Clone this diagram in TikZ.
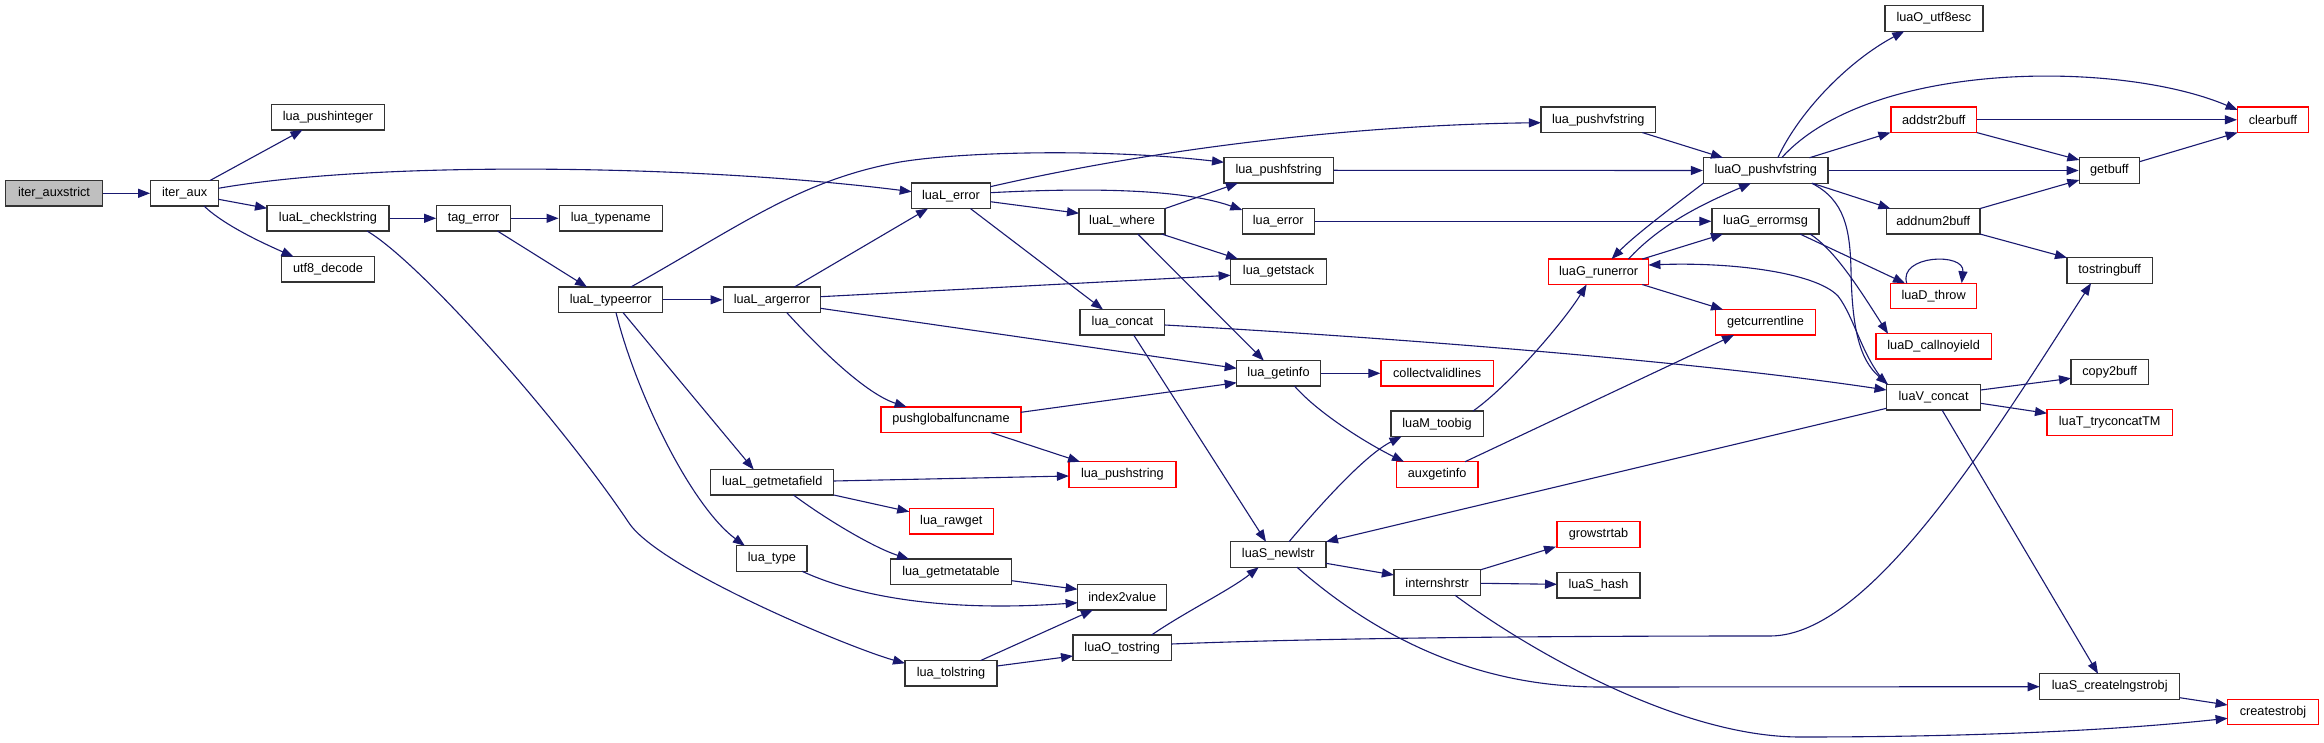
\documentclass[tikz,border=0pt]{standalone}
\usepackage{fontspec}
\setmainfont{Liberation Sans}
\usetikzlibrary{arrows.meta,calc}
\definecolor{mblue}{HTML}{191970}
\definecolor{bord}{HTML}{333333}
\begin{document}
\begin{tikzpicture}[x=1pt,y=-1pt,
 box/.style={draw=bord, line width=1.3pt, fill=white, minimum height=25.5pt, inner sep=0pt, font=\fontsize{12.7}{15}\selectfont},
 rbox/.style={box, draw=red},
 edg/.style={draw=mblue, line width=1.1pt, -{Triangle[length=12pt,width=9pt]}},
 edgn/.style={draw=mblue, line width=1.1pt}]
\fill[white] (0,0) rectangle (2324,743);
\useasboundingbox (0,0) rectangle (2324,743);
% nodes
\node[box, fill=black!25, minimum width=97.5pt] (auxstrict) at (54,193.3) {iter\_auxstrict};
\node[box, minimum width=67.7pt] (iteraux) at (184.6,193.3) {iter\_aux};
\node[box, minimum width=113.5pt] (pushint) at (328,117.2) {lua\_pushinteger};
\node[box, minimum width=122pt] (checkl) at (328,218.3) {luaL\_checklstring};
\node[box, minimum width=92.5pt] (utfdec) at (328,269.3) {utf8\_decode};
\node[box, minimum width=73.6pt] (tagerr) at (473.6,218.3) {tag\_error};
\node[box, minimum width=103pt] (typename) at (610.7,218.3) {lua\_typename};
\node[box, minimum width=104pt] (typeerr) at (610.7,299.8) {luaL\_typeerror};
\node[box, minimum width=97.4pt] (argerr) at (771.9,299.8) {luaL\_argerror};
\node[box, minimum width=123pt] (getmf) at (772.2,482.3) {luaL\_getmetafield};
\node[box, minimum width=70.4pt] (ltype) at (771.9,558.5) {lua\_type};
\node[box, minimum width=78.6pt] (lerror) at (951,195.8) {luaL\_error};
\node[rbox, minimum width=139.8pt] (pgf) at (951,419.7) {pushglobalfuncname};
\node[rbox, minimum width=84.2pt] (rawget) at (951.3,521.2) {lua\_rawget};
\node[box, minimum width=121.4pt] (getmt) at (951,571.8) {lua\_getmetatable};
\node[box, minimum width=91.9pt] (tolstr) at (951,673.3) {lua\_tolstring};
\node[box, minimum width=86pt] (where) at (1122,221.3) {luaL\_where};
\node[box, minimum width=84.7pt] (lconcat) at (1122.4,322.3) {lua\_concat};
\node[rbox, minimum width=107.1pt] (pushstr) at (1122.4,474.5) {lua\_pushstring};
\node[box, minimum width=89.2pt] (itwov) at (1122.2,597.2) {index2value};
\node[box, minimum width=98.4pt] (otostr) at (1122.2,647.8) {luaO\_tostring};
\node[box, minimum width=109.2pt] (pushf) at (1278.6,170.3) {lua\_pushfstring};
\node[box, minimum width=72pt] (lerr) at (1278.3,221.3) {lua\_error};
\node[box, minimum width=96pt] (getstack) at (1278.6,271.7) {lua\_getstack};
\node[box, minimum width=83.7pt] (getinfo) at (1278.5,373.3) {lua\_getinfo};
\node[box, minimum width=95.4pt] (newlstr) at (1278.3,554.5) {luaS\_newlstr};
\node[rbox, minimum width=112.3pt] (cvl) at (1437.2,373.3) {collectvalidlines};
\node[box, minimum width=92.3pt] (toobig) at (1437,423.8) {luaM\_toobig};
\node[rbox, minimum width=81.6pt] (auxgi) at (1437.2,474.5) {auxgetinfo};
\node[box, minimum width=86.7pt] (intern) at (1437.2,582.5) {internshrstr};
\node[box, minimum width=114.8pt] (pushvf) at (1598.3,119.8) {lua\_pushvfstring};
\node[rbox, minimum width=99.8pt] (runerr) at (1598.6,271.8) {luaG\_runerror};
\node[rbox, minimum width=83pt] (growst) at (1598.5,534.5) {growstrtab};
\node[box, minimum width=83pt] (shash) at (1598.5,585.2) {luaS\_hash};
\node[box, minimum width=124.3pt] (opushvf) at (1765.7,170.5) {luaO\_pushvfstring};
\node[box, minimum width=107pt] (errmsg) at (1765.5,221.3) {luaG\_errormsg};
\node[rbox, minimum width=100.3pt] (curline) at (1765.5,322.3) {getcurrentline};
\node[box, minimum width=98pt] (utfesc) at (1933.9,18.5) {luaO\_utf8esc};
\node[rbox, minimum width=85.8pt] (addstr) at (1933.8,119.8) {addstr2buff};
\node[box, minimum width=93.6pt] (addnum) at (1933.3,221.3) {addnum2buff};
\node[rbox, minimum width=86.4pt] (dthrow) at (1933.6,296) {luaD\_throw};
\node[rbox, minimum width=115.4pt] (callny) at (1933.6,346.3) {luaD\_callnoyield};
\node[box, minimum width=94.2pt] (vconcat) at (1933.6,397.2) {luaV\_concat};
\node[box, minimum width=60.2pt] (getbuff) at (2109.4,170.5) {getbuff};
\node[box, minimum width=85.3pt] (tsbuff) at (2109.7,270.5) {tostringbuff};
\node[box, minimum width=77.5pt] (copytwo) at (2109.7,372) {copy2buff};
\node[rbox, minimum width=125.4pt] (tryconcat) at (2109.7,422.5) {luaT\_tryconcatTM};
\node[box, minimum width=140pt] (lngstr) at (2109.7,686.5) {luaS\_createlngstrobj};
\node[rbox, minimum width=70.8pt] (clearbuff) at (2273,119.8) {clearbuff};
\node[rbox, minimum width=90.8pt] (cstrobj) at (2273,712) {createstrobj};
% edges
\draw[edg] (auxstrict.east) -- (iteraux.west);
\draw[edg] ($(iteraux)+(25.4,-12.8)$) -- ($(pushint)+(-25.5,12.8)$);
\draw[edg] ($(iteraux)+(33.8,-5)$) .. controls (380,160) and (700,165) .. ($(lerror)+(-39.3,-4.1)$);
\draw[edg] ($(iteraux)+(33.8,6)$) -- ($(checkl)+(-61,-10)$);
\draw[edg] ($(iteraux)+(19.4,12.7)$) .. controls (225,226) and (265,244) .. ($(utfdec)+(-34.5,-12.6)$);
\draw[edg] (checkl.east) -- (tagerr.west);
\draw[edg] ($(checkl)+(39,12.7)$) .. controls (420,262) and (560,420) .. (629,523) .. controls (660,569) and (850,648) .. ($(tolstr)+(-46,-10)$);
\draw[edg] (tagerr.east) -- (typename.west);
\draw[edg] ($(tagerr)+(23.9,12.75)$) -- ($(typeerr)+(-23.7,-12.75)$);
\draw[edg] (typeerr.east) -- (argerr.west);
\draw[edg] ($(typeerr)+(20.1,-12.75)$) .. controls (740,226) and (800,180) .. (900,162) .. controls (960,152) and (1100,148) .. ($(pushf)+(-54.6,-8)$);
\draw[edg] ($(typeerr)+(12.3,12.75)$) -- ($(getmf)+(-18.5,-12.75)$);
\draw[edg] ($(typeerr)+(5.3,12.75)$) .. controls (635,390) and (690,505) .. ($(ltype)+(-27.1,-12.75)$);
\draw[edg] ($(argerr)+(22.5,-12.75)$) -- ($(lerror)+(-23,12.75)$);
\draw[edg] ($(argerr)+(48.6,-3.1)$) -- ($(getstack)+(-48,3.6)$);
\draw[edg] ($(argerr)+(48.6,8.5)$) -- ($(getinfo)+(-41.8,-5)$);
\draw[edg] ($(argerr)+(14.8,12.75)$) .. controls (830,360) and (870,395) .. ($(pgf)+(-44.4,-12.75)$);
\draw[edg] ($(lerror)+(39.3,-9.1)$) .. controls (1150,150) and (1350,125) .. ($(pushvf)+(-57.4,2.9)$);
\draw[edg] ($(lerror)+(39.3,5.9)$) -- ($(where)+(-43,-8)$);
\draw[edg] ($(lerror)+(39.3,-3.1)$) .. controls (1080,188) and (1180,188) .. ($(lerr)+(-36,-11.3)$);
\draw[edg] ($(lerror)+(19.4,12.75)$) -- ($(lconcat)+(-19.4,-12.75)$);
\draw[edg] ($(where)+(43,-12.7)$) -- ($(pushf)+(-40.6,12.75)$);
\draw[edg] ($(where)+(39.7,12.75)$) -- ($(getstack)+(-40.6,-12.75)$);
\draw[edg] ($(where)+(15.8,12.75)$) -- ($(getinfo)+(-14.7,-12.75)$);
\draw[edg] ($(lconcat)+(42.35,2.7)$) .. controls (1400,338) and (1700,362) .. ($(vconcat)+(-47.1,-7.2)$);
\draw[edg] ($(lconcat)+(11.3,12.75)$) -- ($(newlstr)+(-12.3,-12.75)$);
\draw[edg] (pushf.east) -- (opushvf.west);
\draw[edg] (lerr.east) -- (errmsg.west);
\draw[edg] (getinfo.east) -- (cvl.west);
\draw[edg] ($(getinfo)+(15.9,12.7)$) .. controls (1320,415) and (1370,445) .. ($(auxgi)+(-33.2,-12.75)$);
\draw[edg] ($(pgf)+(69.9,-7.4)$) -- ($(getinfo)+(-41.8,9.4)$);
\draw[edg] ($(pgf)+(39.8,12.75)$) -- ($(pushstr)+(-42.4,-12.75)$);
\draw[edg] ($(getmf)+(61.5,-1.3)$) -- ($(pushstr)+(-53.5,1.5)$);
\draw[edg] ($(getmf)+(61.5,12.7)$) -- ($(rawget)+(-42.1,-9.5)$);
\draw[edg] ($(getmf)+(21.2,12.7)$) .. controls (830,522) and (875,548) .. ($(getmt)+(-42,-12.75)$);
\draw[edg] ($(ltype)+(30.1,12.75)$) .. controls (860,598) and (950,612) .. ($(itwov)+(-44.6,5.5)$);
\draw[edg] ($(getmt)+(60.7,8.9)$) -- ($(itwov)+(-44.6,-7.9)$);
\draw[edg] ($(tolstr)+(29.6,-12.75)$) -- ($(itwov)+(-29.3,12.75)$);
\draw[edg] ($(tolstr)+(46,-7.3)$) -- ($(otostr)+(-49.2,8.2)$);
\draw[edg] ($(otostr)+(29.3,-12.75)$) .. controls (1185,612) and (1230,590) .. ($(newlstr)+(-19.6,12.75)$);
\draw[edg] ($(otostr)+(49.2,-3.8)$) .. controls (1350,637) and (1600,636) .. (1770,636) .. controls (1870,636) and (1990,440) .. ($(tsbuff)+(-18.7,12.75)$);
\draw[edg] ($(newlstr)+(10.7,-12.75)$) .. controls (1320,505) and (1365,455) .. ($(toobig)+(-35.5,12.75)$);
\draw[edg] ($(newlstr)+(47.7,8.8)$) -- ($(intern)+(-43.3,-7.5)$);
\draw[edg] ($(newlstr)+(18.7,12.75)$) .. controls (1380,640) and (1480,687) .. (1600,687) -- ($(lngstr)+(-70,0.2)$);
\draw[edg] ($(toobig)+(36,-12.75)$) .. controls (1510,385) and (1565,320) .. ($(runerr)+(-12,12.75)$);
\draw[edg] ($(auxgi)+(27.8,-12.75)$) -- ($(curline)+(-31.5,12.75)$);
\draw[edg] ($(intern)+(43.4,-12.7)$) -- ($(growst)+(-42.5,12.2)$);
\draw[edg] ($(intern)+(43.4,0.8)$) -- ($(shash)+(-41.5,-0.9)$);
\draw[edg] ($(intern)+(17.8,12.75)$) .. controls (1530,651) and (1680,737) .. (1800,737) .. controls (1950,737) and (2100,732) .. ($(cstrobj)+(-45.4,6.3)$);
\draw[edg] ($(pushvf)+(44,12.75)$) -- ($(opushvf)+(-42.7,-12.75)$);
\draw[edg] ($(opushvf)+(12.1,-12.75)$) .. controls (1800,110) and (1850,60) .. ($(utfesc)+(-29.6,12.75)$);
\draw[edg] ($(opushvf)+(16,-12.75)$) .. controls (1870,60) and (2120,60) .. ($(clearbuff)+(-35.4,-9.8)$);
\draw[edg] ($(opushvf)+(43.8,-12.75)$) -- ($(addstr)+(-43.4,12.75)$);
\draw[edg] (opushvf.east) -- (getbuff.west);
\draw[edg] ($(opushvf)+(46.6,12.75)$) -- ($(addnum)+(-42.9,-12.75)$);
\draw[edg] ($(opushvf)+(-62.1,12.5)$) .. controls (1675,205) and (1635,235) .. ($(runerr)+(13,-12.75)$);
\draw[edg] ($(runerr)+(29.8,-12.75)$) .. controls (1660,225) and (1700,205) .. ($(opushvf)+(-14.7,12.75)$);
\draw[edg] ($(runerr)+(43.7,-12.75)$) -- ($(errmsg)+(-42.5,12.75)$);
\draw[edg] ($(runerr)+(43.7,12.75)$) -- ($(curline)+(-42.5,-12.75)$);
\draw[edg] ($(vconcat)+(-46.6,-12.75)$) .. controls (1862,358) and (1855,318) .. (1838,296) .. controls (1815,272) and (1730,262) .. ($(runerr)+(49.8,-6.8)$);
\draw[edg] ($(opushvf)+(46,12.75)$) .. controls (1845,200) and (1850,230) .. (1851,270) .. controls (1852,330) and (1860,360) .. ($(vconcat)+(-45.6,-12.75)$);
\draw[edg] ($(errmsg)+(34.5,12.75)$) -- ($(dthrow)+(-28.6,-12.7)$);
\draw[edg] ($(errmsg)+(44.5,12.75)$) .. controls (1835,250) and (1860,290) .. ($(callny)+(-45.6,-12.55)$);
\draw[edg] ($(dthrow)+(-26.9,-12.75)$) .. controls (1898,255) and (1965,252) .. ($(dthrow)+(28.1,-12.75)$);
\draw[edg] (addstr.east) -- (clearbuff.west);
\draw[edg] ($(addstr)+(42.9,12.75)$) -- ($(getbuff)+(-30.1,-10.5)$);
\draw[edg] ($(getbuff)+(30.1,-8.8)$) -- ($(clearbuff)+(-35.4,12.75)$);
\draw[edg] ($(addnum)+(46.7,-12.75)$) -- ($(getbuff)+(-30.1,9.5)$);
\draw[edg] ($(addnum)+(46.7,12.75)$) -- ($(tsbuff)+(-42.7,-12.75)$);
\draw[edg] ($(vconcat)+(47.1,-7.2)$) -- ($(copytwo)+(-38.7,6.3)$);
\draw[edg] ($(vconcat)+(47.1,6.1)$) -- ($(tryconcat)+(-62.7,-9.2)$);
\draw[edg] ($(vconcat)+(-47.1,11.1)$) -- ($(newlstr)+(47.7,-12.8)$);
\draw[edg] ($(vconcat)+(8.4,12.75)$) -- ($(lngstr)+(-11.7,-12.75)$);
\draw[edg] ($(lngstr)+(70,11.2)$) -- ($(cstrobj)+(-45.4,-7)$);
\end{tikzpicture}
\end{document}
